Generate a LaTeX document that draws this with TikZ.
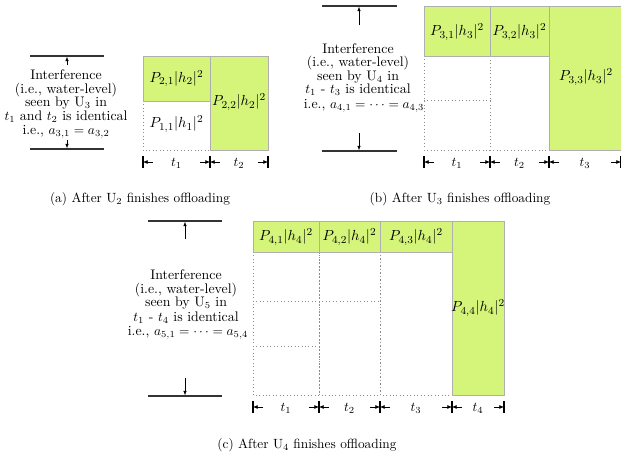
\documentclass[tikz,border=0pt]{standalone}
\usetikzlibrary{arrows.meta}
\definecolor{lgreen}{RGB}{212,245,122}
\definecolor{bord}{RGB}{175,175,175}
\newcommand{\dimseg}[5]{%
  \coordinate (#1a) at (#2,#4);
  \coordinate (#1b) at (#3,#4);
  \coordinate (#1ai) at (#2+10,#4);
  \coordinate (#1bi) at (#3-10,#4);
  \draw[tickline] (#2,#4-6) -- (#2,#4+6);
  \draw[tickline] (#3,#4-6) -- (#3,#4+6);
  \draw[dimarrow] (#1ai) -- (#1a);
  \draw[dimarrow] (#1bi) -- (#1b);
  \node[inner sep=0pt,font=\fontsize{10.4}{12}\selectfont] (#1t) at ({(#2+#3)/2},#4+1) {$#5$};
}
\begin{document}
\begin{tikzpicture}[x=0.75pt,y=-0.75pt,
  pbox/.style={fill=lgreen,draw=bord,line width=0.7pt},
  dotbox/.style={draw=black!45,dotted,line width=0.6pt},
  wline/.style={draw=black!80,line width=0.9pt},
  warrow/.style={-{Latex[length=3.5pt,width=2.6pt]},line width=0.5pt},
  dimarrow/.style={-{Latex[length=3.5pt,width=3pt]},line width=0.5pt},
  tickline/.style={line width=0.8pt},
  itext/.style={anchor=base,inner sep=0pt,font=\fontsize{10.4}{12}\selectfont},
  plabel/.style={inner sep=0pt,font=\fontsize{10.8}{12}\selectfont},
  captext/.style={inner sep=0pt,font=\fontsize{10}{12}\selectfont}
]
\useasboundingbox (0,0) rectangle (621,458);

% ---------------- (a) ----------------
\coordinate (aTL) at (30,56);  \coordinate (aTR) at (104,56);
\coordinate (aBL) at (30,149); \coordinate (aBR) at (104,149);
\coordinate (aT0) at (67,65);  \coordinate (aT1) at (67,56.5);
\coordinate (aB0) at (67,140); \coordinate (aB1) at (67,148.5);
\draw[wline] (aTL) -- (aTR);
\draw[wline] (aBL) -- (aBR);
\draw[warrow] (aT0) -- (aT1);
\draw[warrow] (aB0) -- (aB1);
\node[itext] (a1) at (66,79) {Interference};
\node[itext] (a2) at (66,93) {(i.e., water-level)};
\node[itext] (a3) at (66,106.5) {seen by U$_3$ in};
\node[itext] (a4) at (66,120.5) {$t_1$ and $t_2$ is identical};
\node[itext] (a5) at (66,134) {i.e., $a_{3,1}=a_{3,2}$};

\draw[dotbox] (143,101) rectangle (210,150);
\draw[pbox] (143,56) rectangle (210,101);
\draw[pbox] (210,56) rectangle (268,150);
\node[plabel] (p21) at (176.5,78.5) {$P_{2,1}|h_2|^2$};
\node[plabel] (p11) at (176.5,124) {$P_{1,1}|h_1|^2$};
\node[plabel] (p22) at (239,102) {$P_{2,2}|h_2|^2$};

\dimseg{da1}{143}{210}{162}{t_1}
\dimseg{da2}{210}{268}{162}{t_2}
\node[captext] (capa) at (140,199) {(a) After U$_2$ finishes offloading};

% ---------------- (b) ----------------
\coordinate (bTL) at (322,6);   \coordinate (bTR) at (397,6);
\coordinate (bBL) at (322,151); \coordinate (bBR) at (397,151);
\coordinate (bT0) at (359,25);  \coordinate (bT1) at (359,6.5);
\coordinate (bB0) at (359,133); \coordinate (bB1) at (359,150.5);
\draw[wline] (bTL) -- (bTR);
\draw[wline] (bBL) -- (bBR);
\draw[warrow] (bT0) -- (bT1);
\draw[warrow] (bB0) -- (bB1);
\node[itext] (b1) at (358,53) {Interference};
\node[itext] (b2) at (358,66.5) {(i.e., water-level)};
\node[itext] (b3) at (358,80) {seen by U$_4$ in};
\node[itext] (b4) at (358,93.5) {$t_1$ - $t_3$ is identical};
\node[itext] (b5) at (364,108.5) {i.e., $a_{4,1}=\cdots=a_{4,3}$};

\draw[dotbox] (424,56) rectangle (490,150);
\draw[dotbox] (424,100) -- (490,100);
\draw[dotbox] (490,150) -- (549,150);
\draw[pbox] (424,6) rectangle (490,56);
\draw[pbox] (490,6) rectangle (549,56);
\draw[pbox] (549,6) rectangle (624,150);
\node[plabel] (p31) at (457,32) {$P_{3,1}|h_3|^2$};
\node[plabel] (p32) at (519.5,32) {$P_{3,2}|h_3|^2$};
\node[plabel] (p33) at (586,77) {$P_{3,3}|h_3|^2$};

\dimseg{db1}{424}{490}{162}{t_1}
\dimseg{db2}{490}{549}{162}{t_2}
\dimseg{db3}{549}{621}{162}{t_3}
\node[captext] (capb) at (460,199) {(b) After U$_3$ finishes offloading};

% ---------------- (c) ----------------
\coordinate (cTL) at (148,221); \coordinate (cTR) at (222,221);
\coordinate (cBL) at (148,396); \coordinate (cBR) at (222,396);
\coordinate (cT0) at (185,239); \coordinate (cT1) at (185,221.5);
\coordinate (cB0) at (185,378); \coordinate (cB1) at (185,395.5);
\draw[wline] (cTL) -- (cTR);
\draw[wline] (cBL) -- (cBR);
\draw[warrow] (cT0) -- (cT1);
\draw[warrow] (cB0) -- (cB1);
\node[itext] (c1) at (186,279) {Interference};
\node[itext] (c2) at (186,293) {(i.e., water-level)};
\node[itext] (c3) at (186,306.5) {seen by U$_5$ in};
\node[itext] (c4) at (186,321) {$t_1$ - $t_4$ is identical};
\node[itext] (c5) at (188,335) {i.e., $a_{5,1}=\cdots=a_{5,4}$};

\draw[dotbox] (253,252) rectangle (319,395);
\draw[dotbox] (319,252) rectangle (380,395);
\draw[dotbox] (380,252) rectangle (452,395);
\draw[dotbox] (253,301) -- (380,301);
\draw[dotbox] (253,346) -- (319,346);
\draw[pbox] (253,221) rectangle (319,252);
\draw[pbox] (319,221) rectangle (380,252);
\draw[pbox] (380,221) rectangle (452,252);
\draw[pbox] (452,221) rectangle (504,395);
\node[plabel] (p41) at (286,237) {$P_{4,1}|h_4|^2$};
\node[plabel] (p42) at (349.5,237) {$P_{4,2}|h_4|^2$};
\node[plabel] (p43) at (416,237) {$P_{4,3}|h_4|^2$};
\node[plabel] (p44) at (478,308) {$P_{4,4}|h_4|^2$};

\dimseg{dc1}{253}{319}{407}{t_1}
\dimseg{dc2}{319}{380}{407}{t_2}
\dimseg{dc3}{380}{452}{407}{t_3}
\dimseg{dc4}{452}{504}{407}{t_4}
\node[captext] (capc) at (307,445) {(c) After U$_4$ finishes offloading};
\end{tikzpicture}
\end{document}
